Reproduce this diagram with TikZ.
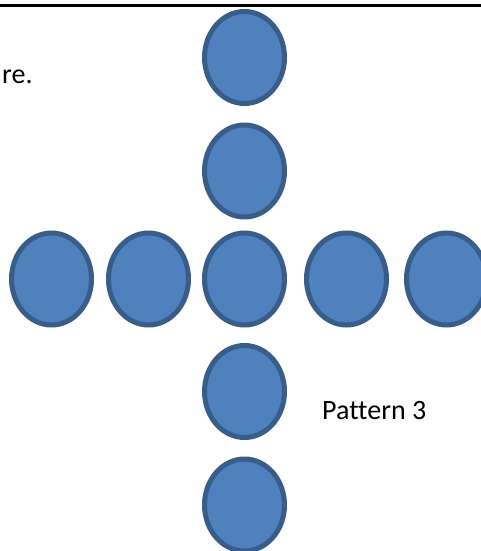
\documentclass[tikz,border=0pt]{standalone}
\usepackage{fontspec}
\setmainfont[Ligatures=NoCommon]{Carlito}
\definecolor{dotfill}{HTML}{4F81BD}
\definecolor{dotline}{HTML}{385D8A}
\begin{document}
\begin{tikzpicture}[x=1pt, y=-1pt,
	dot/.style={fill=dotfill, draw=dotline, line width=5pt},
	txt/.style={anchor=base west, inner sep=0pt, font=\fontsize{28}{33}\selectfont}]
		% Рамка
		\clip (0,0) rectangle (481,551);
		\draw[line width=2.5pt] (0,5.5) -- (481,5.5);
		
		% Вертикальный столбец
		\draw[dot] (244.5,57.5) ellipse (40 and 46);
		\draw[dot] (244.5,171) ellipse (40 and 46);
		\draw[dot] (244.5,391.5) ellipse (40 and 46);
		\draw[dot] (244.5,505) ellipse (40 and 46);
		
		% Горизонтальный ряд
		\draw[dot] (51.5,279) ellipse (40 and 46);
		\draw[dot] (148.5,279) ellipse (40 and 46);
		\draw[dot] (244.5,279) ellipse (40 and 46);
		\draw[dot] (346.5,279) ellipse (40 and 46);
		\draw[dot] (446.5,279) ellipse (40 and 46);
		
		\node[txt] (tail) at (2,83) {re.};
		\node[txt] (pattern) at (322,419) {Pattern 3};
		
\end{tikzpicture}
\end{document}
